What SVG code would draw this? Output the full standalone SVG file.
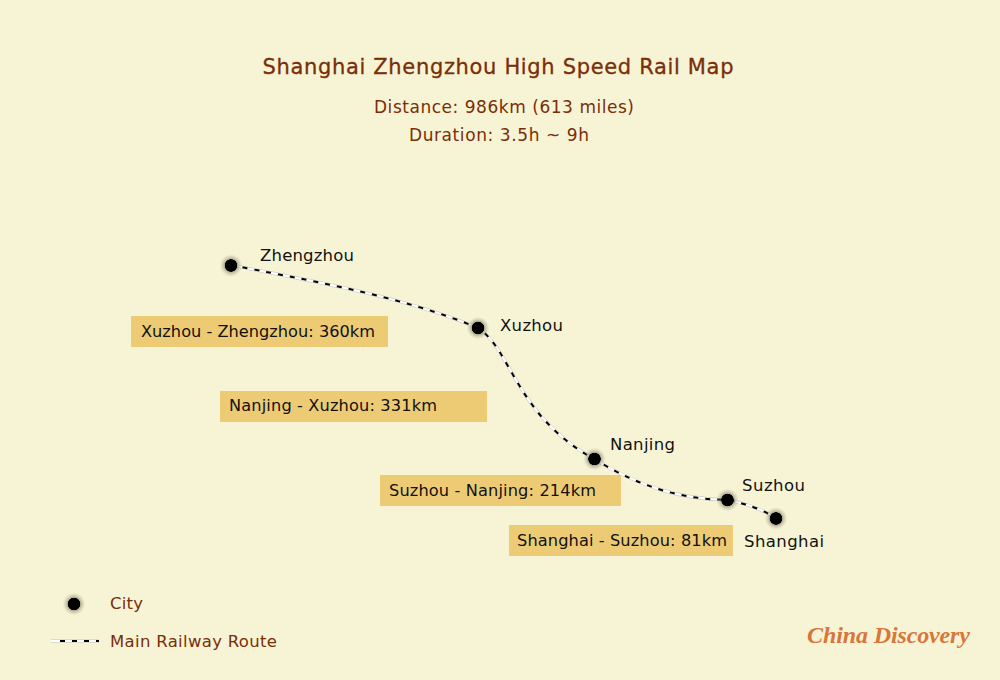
<svg xmlns="http://www.w3.org/2000/svg" width="1000" height="680" viewBox="0 0 1000 680">
<style>
text{font-family:"DejaVu Sans","Liberation Sans",sans-serif;font-size:16px}
.t{fill:#7a2e08;font-size:17px}
.l{fill:#7a2e08;font-size:16.5px}
.n{fill:#111;font-size:16.5px}
.s{fill:#111;font-size:16.2px}
.b{fill:#edcb75}
.r0{fill:none;stroke:#c4c4ba;stroke-width:3.2}
.r1{fill:none;stroke:#fff;stroke-width:2.2}
.r2{fill:none;stroke:#000;stroke-width:2;stroke-dasharray:5 7}
</style>
<defs>
<radialGradient id="g"><stop offset="0.52" stop-color="#000"/><stop offset="0.57" stop-color="#6b6a55" stop-opacity="0.5"/><stop offset="0.75" stop-color="#8a886c" stop-opacity="0.28"/><stop offset="1" stop-color="#a8a688" stop-opacity="0"/></radialGradient>
<g id="dot"><circle r="11.5" fill="url(#g)"/></g>
<path id="p" d="M231 265C300 279 400 295 478 328C512 350 515 415 594 459C640 487 680 499 727 500Q755 505 776 518"/>
</defs>
<rect width="1000" height="680" fill="#f7f4d5"/>
<text x="262.5" y="74" textLength="471" style="fill:#7a2e08;font-size:21px;stroke:#7a2e08;stroke-width:0.3">Shanghai Zhengzhou High Speed Rail Map</text>
<text class="t" x="374" y="113" textLength="260">Distance: 986km (613 miles)</text>
<text class="t" x="409" y="141" textLength="180">Duration: 3.5h ~ 9h</text>
<g id="connectors">
<use href="#p" class="r0"/><use href="#p" class="r1"/><use href="#p" class="r2"/>
<path class="r0" d="M51 641H99"/><path class="r1" d="M51 641H99"/><path class="r2" d="M60 641H99"/>
</g>
<g id="zhengzhou"><use href="#dot" x="231" y="265.500"/><text class="n" x="260" y="261" textLength="94">Zhengzhou</text></g>
<g id="xuzhou"><use href="#dot" x="478" y="328"/><text class="n" x="500" y="331" textLength="63">Xuzhou</text></g>
<g id="nanjing"><use href="#dot" x="594.500" y="459"/><text class="n" x="610" y="450" textLength="65">Nanjing</text></g>
<g id="suzhou"><use href="#dot" x="727.500" y="500"/><text class="n" x="742" y="491" textLength="63">Suzhou</text></g>
<g id="shanghai"><use href="#dot" x="776" y="518.500"/><text class="n" x="744" y="547" textLength="80">Shanghai</text></g>
<g id="seg1"><rect class="b" x="131" y="316" width="257" height="31"/><text class="s" x="141" y="337" textLength="234">Xuzhou - Zhengzhou: 360km</text></g>
<g id="seg2"><rect class="b" x="220" y="391" width="267" height="31"/><text class="s" x="229" y="411" textLength="208">Nanjing - Xuzhou: 331km</text></g>
<g id="seg3"><rect class="b" x="380" y="475" width="241" height="31"/><text class="s" x="389" y="496" textLength="207">Suzhou - Nanjing: 214km</text></g>
<g id="seg4"><rect class="b" x="509" y="525" width="224" height="31"/><text class="s" x="517" y="546" textLength="210">Shanghai - Suzhou: 81km</text></g>
<g id="legend"><use href="#dot" x="74" y="604"/><text class="l" x="110" y="609" textLength="33">City</text><text class="l" x="110" y="647" textLength="167">Main Railway Route</text></g>
<text id="logo" x="807" y="643" textLength="163" style="font-family:'Liberation Serif',serif;font-style:italic;font-weight:bold;font-size:24px;fill:#d9763c">China Discovery</text>
</svg>
